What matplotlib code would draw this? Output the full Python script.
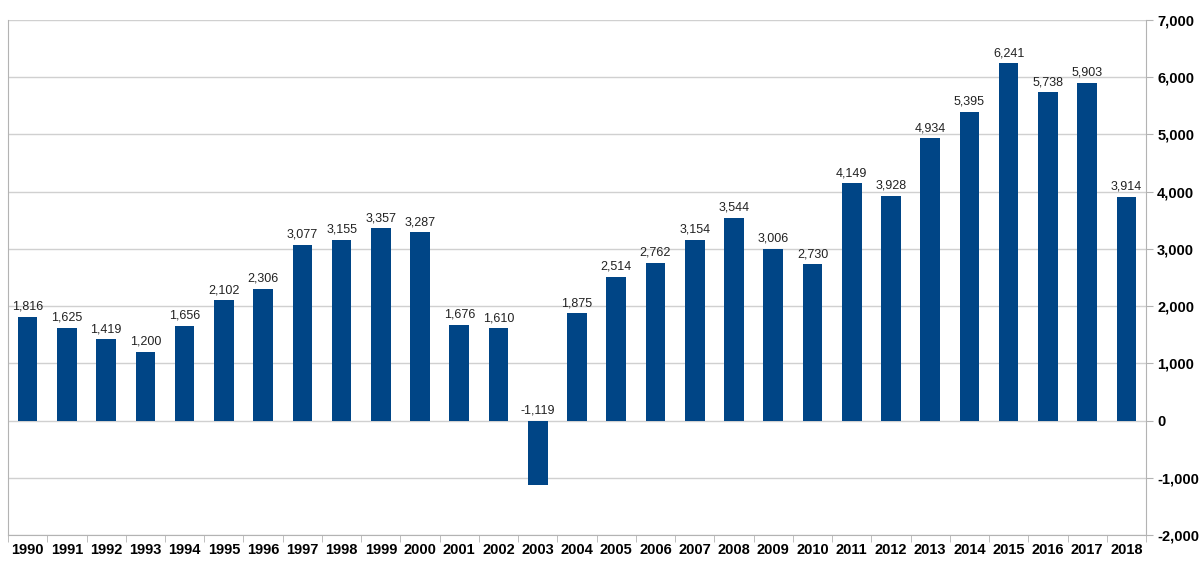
import matplotlib
matplotlib.use("Agg")
import numpy as np
from matplotlib import pyplot as plt
from matplotlib.ticker import FuncFormatter, FixedLocator

years = list(range(1990, 2019))
values = [1816, 1625, 1419, 1200, 1656, 2102, 2306, 3077, 3155, 3357, 3287,
          1676, 1610, -1119, 1875, 2514, 2762, 3154, 3544, 3006, 2730,
          4149, 3928, 4934, 5395, 6241, 5738, 5903, 3914]

plt.rcParams["font.family"] = ["Liberation Sans", "DejaVu Sans"]

fig = plt.figure(figsize=(12, 5.61), dpi=100)
ax = fig.add_axes([0.0067, 0.0463, 0.9483, 0.918])

x = np.arange(len(years))
ax.bar(x, values, width=0.5, color="#004586", zorder=3)

for xi, v in zip(x, values):
    ax.annotate(f"{v:,}", (xi, max(v, 0)), xytext=(0, 3),
                textcoords="offset points", ha="center", va="bottom",
                fontsize=9, color="#222222")

ax.set_xlim(-0.5, len(years) - 0.5)
ax.set_ylim(-2000, 7000)
ax.set_yticks(range(-2000, 7001, 1000))
ax.yaxis.set_major_formatter(FuncFormatter(lambda v, p: f"{int(v):,}"))
ax.yaxis.tick_right()
ax.grid(axis="y", color="#d0d0d0", linewidth=1, zorder=0)

ax.set_xticks(x)
ax.set_xticklabels([str(y) for y in years], fontweight="bold", fontsize=10.5)
ax.xaxis.set_minor_locator(FixedLocator(np.arange(-0.5, len(years), 1)))
ax.tick_params(axis="x", which="major", length=0, pad=6)
ax.tick_params(axis="x", which="minor", length=5, color="#b3b3b3")
ax.tick_params(axis="y", length=5, color="#b3b3b3", labelsize=10.5, pad=3)
for lab in ax.get_yticklabels():
    lab.set_fontweight("bold")

for side in ["left", "right", "bottom"]:
    ax.spines[side].set_color("#b3b3b3")
ax.spines["top"].set_visible(False)

fig.savefig("out.png", dpi=100)
